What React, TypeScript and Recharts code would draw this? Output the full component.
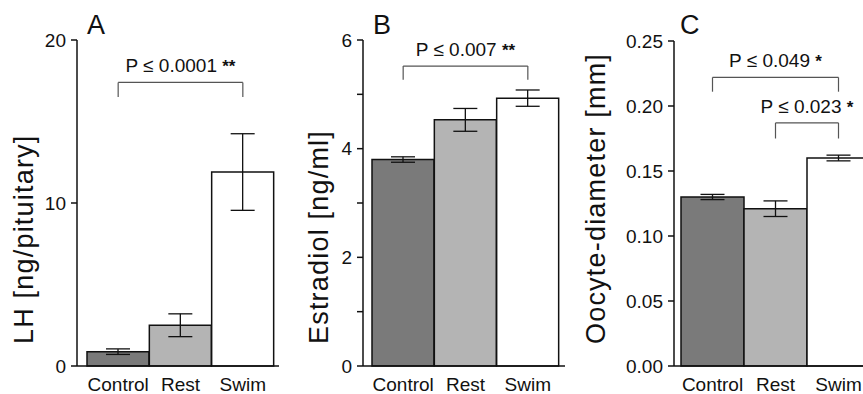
import React from 'react';
import { BarChart, Bar, XAxis, YAxis, ErrorBar, Cell, ReferenceLine, Customized } from 'recharts';

const groups = ['Control', 'Rest', 'Swim'];
const fills = ['#7a7a7a', '#b4b4b4', '#ffffff'];

const lhValues = [0.88, 2.5, 11.9];
const lhErrors = [0.17, 0.7, 2.35];
const lhTicks = [0, 10, 20];

const e2Values = [3.8, 4.53, 4.93];
const e2Errors = [0.05, 0.21, 0.15];
const e2Ticks = [0, 1, 2, 3, 4, 5, 6];

const oocyteValues = [0.13, 0.121, 0.16];
const oocyteErrors = [0.002, 0.006, 0.0022];
const oocyteTicks = [0, 0.05, 0.1, 0.15, 0.2, 0.25];

const font = '"Liberation Sans", Arial, Helvetica, sans-serif';

const toRows = (values: number[], errors: number[]) =>
  groups.map((name, i) => ({ name, value: values[i], err: errors[i] }));

const PLabel = ({ viewBox, text, stars }: any) => {
  const cx = viewBox.x + viewBox.width / 2;
  return (
    <text x={cx} y={viewBox.y - 10} textAnchor="middle" fontSize={19} fontFamily={font} fill="#111">
      {text} <tspan fontWeight="bold" fontSize={17}>{stars}</tspan>
    </text>
  );
};

// title is anchored at its bottom end, like the reference
const AxisTitle = ({ tx, text }: any) => (
  <text
    transform={`translate(${tx},344) rotate(-90)`}
    textAnchor="start"
    fontSize={27}
    letterSpacing={1.2}
    fontFamily={font}
    fill="#111"
  >
    {text}
  </text>
);

const Bracket = ({ from, to, top, leg, text, stars }: any) => [
  <ReferenceLine key="l" segment={[{ x: from, y: leg }, { x: from, y: top }]} stroke="#555" strokeWidth={1.2} />,
  <ReferenceLine key="r" segment={[{ x: to, y: leg }, { x: to, y: top }]} stroke="#555" strokeWidth={1.2} />,
  <ReferenceLine
    key="t"
    segment={[{ x: from, y: top }, { x: to, y: top }]}
    stroke="#555"
    strokeWidth={1.2}
    label={<PLabel text={text} stars={stars} />}
  />,
];

type PanelProps = {
  left: number;
  width: number;
  axisX: number;
  marginRight: number;
  marginTop: number;
  padLeft: number;
  padRight: number;
  values: number[];
  errors: number[];
  ticks: number[];
  fmt: (v: number) => string;
  letter: string;
  letterX: number;
  title: string;
  titleX: number;
  children?: React.ReactNode;
};

const Panel = (p: PanelProps) => {
  const data = toRows(p.values, p.errors);
  return (
    <div style={{ position: 'absolute', left: p.left, top: 0 }}>
      <BarChart
        width={p.width}
        height={394}
        data={data}
        margin={{ top: p.marginTop, right: p.marginRight, bottom: 0, left: 0 }}
        barCategoryGap={0}
        barGap={0}
      >
        <XAxis
          dataKey="name"
          tickLine={false}
          tickSize={0}
          tickMargin={12}
          height={28}
          padding={{ left: p.padLeft, right: p.padRight }}
          axisLine={{ stroke: '#111', strokeWidth: 1.5 }}
          tick={{ fill: '#111', fontSize: 19, fontFamily: font }}
          interval={0}
        />
        <YAxis
          width={p.axisX}
          domain={[p.ticks[0], p.ticks[p.ticks.length - 1]]}
          ticks={p.ticks}
          interval={0}
          tickFormatter={p.fmt}
          tickSize={6}
          tickMargin={5}
          axisLine={{ stroke: '#111', strokeWidth: 1.5 }}
          tickLine={{ stroke: '#111', strokeWidth: 1.5 }}
          tick={{ fill: '#111', fontSize: 19, fontFamily: font }}
          label={<AxisTitle tx={p.titleX} text={p.title} />}
        />
        <Bar dataKey="value" stroke="#111" strokeWidth={1.5} isAnimationActive={false}>
          {data.map((d, i) => (
            <Cell key={d.name} fill={fills[i]} />
          ))}
          <ErrorBar dataKey="err" width={12} stroke="#111" strokeWidth={1.3} />
        </Bar>
        {p.children}
        <Customized
          component={() => (
            <text x={p.letterX} y={34} fontSize={27} fontFamily={font} fill="#111">
              {p.letter}
            </text>
          )}
        />
      </BarChart>
    </div>
  );
};

export default function App() {
  return (
    <div style={{ position: 'absolute', left: 0, top: 0, width: 863, height: 394, overflow: 'hidden', background: '#fff' }}>
      <Panel
        left={0}
        width={290}
        axisX={77}
        marginRight={11}
        marginTop={40}
        padLeft={10}
        padRight={5}
        values={lhValues}
        errors={lhErrors}
        ticks={lhTicks}
        fmt={(v) => String(v)}
        letter="A"
        letterX={87}
        title="LH [ng/pituitary]"
        titleX={33}
      >
        {Bracket({ from: 'Control', to: 'Swim', top: 17.4, leg: 16.5, text: 'P ≤ 0.0001', stars: '**' })}
      </Panel>
      <Panel
        left={290}
        width={290}
        axisX={73}
        marginRight={15}
        marginTop={40}
        padLeft={9}
        padRight={6}
        values={e2Values}
        errors={e2Errors}
        ticks={e2Ticks}
        fmt={(v) => (v % 2 === 0 ? String(v) : '')}
        letter="B"
        letterX={83}
        title="Estradiol [ng/ml]"
        titleX={38}
      >
        {Bracket({ from: 'Control', to: 'Swim', top: 5.52, leg: 5.27, text: 'P ≤ 0.007', stars: '**' })}
      </Panel>
      <Panel
        left={580}
        width={300}
        axisX={94}
        marginRight={5}
        marginTop={41}
        padLeft={7}
        padRight={5}
        values={oocyteValues}
        errors={oocyteErrors}
        ticks={oocyteTicks}
        fmt={(v) => v.toFixed(2)}
        letter="C"
        letterX={100}
        title="Oocyte-diameter [mm]"
        titleX={25}
      >
        {Bracket({ from: 'Control', to: 'Swim', top: 0.222, leg: 0.211, text: 'P ≤ 0.049', stars: '*' })}
        {Bracket({ from: 'Rest', to: 'Swim', top: 0.187, leg: 0.175, text: 'P ≤ 0.023', stars: '*' })}
      </Panel>
    </div>
  );
}
